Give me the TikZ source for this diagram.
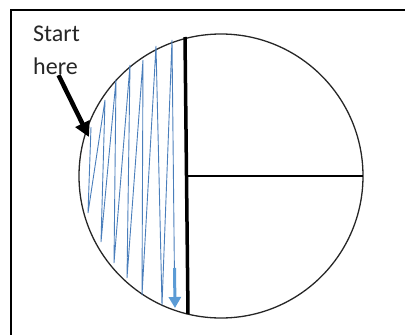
\documentclass[tikz,border=0pt]{standalone}
\usepackage{fontspec}
\setmainfont{Carlito}
\usetikzlibrary{arrows.meta}
\definecolor{zigblue}{HTML}{4A7EBB}
\definecolor{downblue}{HTML}{5B9BD5}

\begin{document}
\begin{tikzpicture}[
  x=1pt, y=-1pt,
  frame/.style={line width=2pt},
  rim/.style={draw=black!85, line width=1.3pt},
  cut/.style={line width=3.5pt},
  half/.style={line width=2.2pt},
  zig/.style={draw=zigblue, line width=0.9pt},
  down/.style={draw=downblue, line width=3pt, -{Triangle[length=11pt,width=12pt]}},
  pointer/.style={line width=4.5pt, -{Triangle[length=15pt,width=15pt]}}
]
\useasboundingbox (0,0) rectangle (405,335);
\draw[frame] (11,335) -- (11,10) -- (405,10);

\node[anchor=north west, align=left, inner sep=0pt, text=black!85,
      font=\fontsize{24}{33}\selectfont] (start) at (33,26) {Start\\here};
\coordinate (entry) at (89,137);

% the disc and its cuts
\coordinate (c) at (221,176);
\draw[rim] (c) circle (142pt);
\draw[cut] (185,37) -- (188,314);
\draw[half] (187,176) -- (363,176);

% zigzag path through the left part
\draw[zig] (91,127) -- (88,213) -- (105,100) -- (101,242) -- (116,80)
  -- (114,263) -- (130,65) -- (127,278) -- (143,60) -- (142,295)
  -- (156,46) -- (162,305) -- (172,40) -- (174.5,280);
\draw[down] (174.5,268) -- (175,308);

\draw[pointer] ([xshift=2pt]start.south) -- (entry);
\end{tikzpicture}
\end{document}
